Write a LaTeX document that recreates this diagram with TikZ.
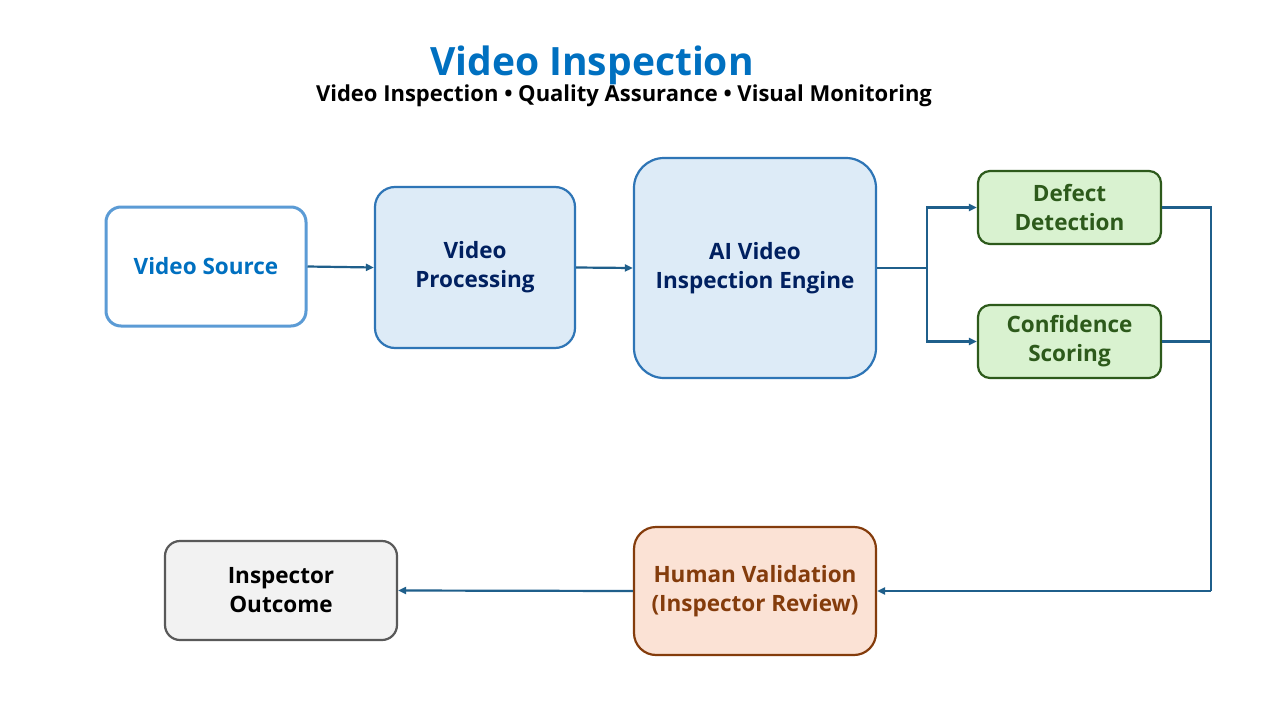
\documentclass[tikz,border=0pt]{standalone}
\usepackage{fontspec}
\setmainfont{Open Sans}
\usetikzlibrary{arrows.meta}
\definecolor{linec}{HTML}{1F5F8B}
\definecolor{titleblue}{HTML}{0070C0}
\definecolor{vsborder}{HTML}{5B9BD5}
\definecolor{bluefill}{HTML}{DDEBF7}
\definecolor{blueborder}{HTML}{2E75B6}
\definecolor{navy}{HTML}{002060}
\definecolor{greenfill}{HTML}{D9F2D0}
\definecolor{greenborder}{HTML}{2D5A1B}
\definecolor{greentext}{HTML}{2D5A1B}
\definecolor{orangefill}{HTML}{FBE2D5}
\definecolor{brown}{HTML}{843C0C}
\definecolor{grayfill}{HTML}{F2F2F2}
\definecolor{grayborder}{HTML}{595959}
\tikzset{
  box/.style={rounded corners=#1, align=center, font=\bfseries\fontsize{22.5}{29}\selectfont, inner sep=0pt},
  box/.default=15pt,
  conn/.style={draw=linec, line width=2.2pt},
  arr/.style={conn, -{Triangle[length=8pt,width=7pt]}},
}
\begin{document}
\begin{tikzpicture}[x=1pt,y=-1pt]
\useasboundingbox (0,0) rectangle (1280,720);
\fill[white] (0,0) rectangle (1280,720);
\node[font=\bfseries\fontsize{39}{42}\selectfont, text=titleblue] (title) at (592,65) {Video Inspection};
\node[font=\bfseries\fontsize{22}{25}\selectfont] (sub) at (624,96) {Video Inspection • Quality Assurance • Visual Monitoring};

\node[box, draw=vsborder, line width=3pt, fill=white, text=titleblue, minimum width=200pt, minimum height=119pt] (vs) at (206,266.5) {Video Source};
\node[box=20pt, draw=blueborder, line width=2.2pt, fill=bluefill, text=navy, minimum width=200pt, minimum height=161pt] (vp) at (475,267.5) {Video\\Processing};
\node[box=30pt, draw=blueborder, line width=2.2pt, fill=bluefill, text=navy, minimum width=242pt, minimum height=220pt] (ai) at (755,268) {AI Video\\Inspection Engine};
\node[box=12pt, draw=greenborder, line width=2.2pt, fill=greenfill, text=greentext, minimum width=183pt, minimum height=73pt] (dd) at (1069.5,207.5) {Defect\\Detection};
\node[box=12pt, draw=greenborder, line width=2.2pt, fill=greenfill, text=greentext, minimum width=183pt, minimum height=73pt] (cs) at (1069.5,341.5) {Confidence\\Scoring};
\node[box=22pt, draw=brown, line width=2.2pt, fill=orangefill, text=brown, minimum width=242pt, minimum height=128pt] (hv) at (755,591) {Human Validation\\(Inspector Review)};
\node[box=15pt, draw=grayborder, line width=2.2pt, fill=grayfill, text=black, minimum width=232pt, minimum height=99pt] (io) at (281,590.5) {Inspector\\Outcome};

\coordinate (split) at (927,268);
\coordinate (merge) at (1211,591);

\draw[arr] (vs.east) -- (vp.west);
\draw[arr] (vp.east) -- (ai.west);
\draw[conn] (ai.east) -- (split);
\draw[arr] (split) |- (dd.west);
\draw[arr] (split) |- (cs.west);
\draw[conn] (dd.east) -| (merge);
\draw[conn] (cs.east) -| (merge);
\draw[arr] (merge) -- (hv.east);
\draw[arr] (hv.west) -- (io.east);
\end{tikzpicture}
\end{document}
